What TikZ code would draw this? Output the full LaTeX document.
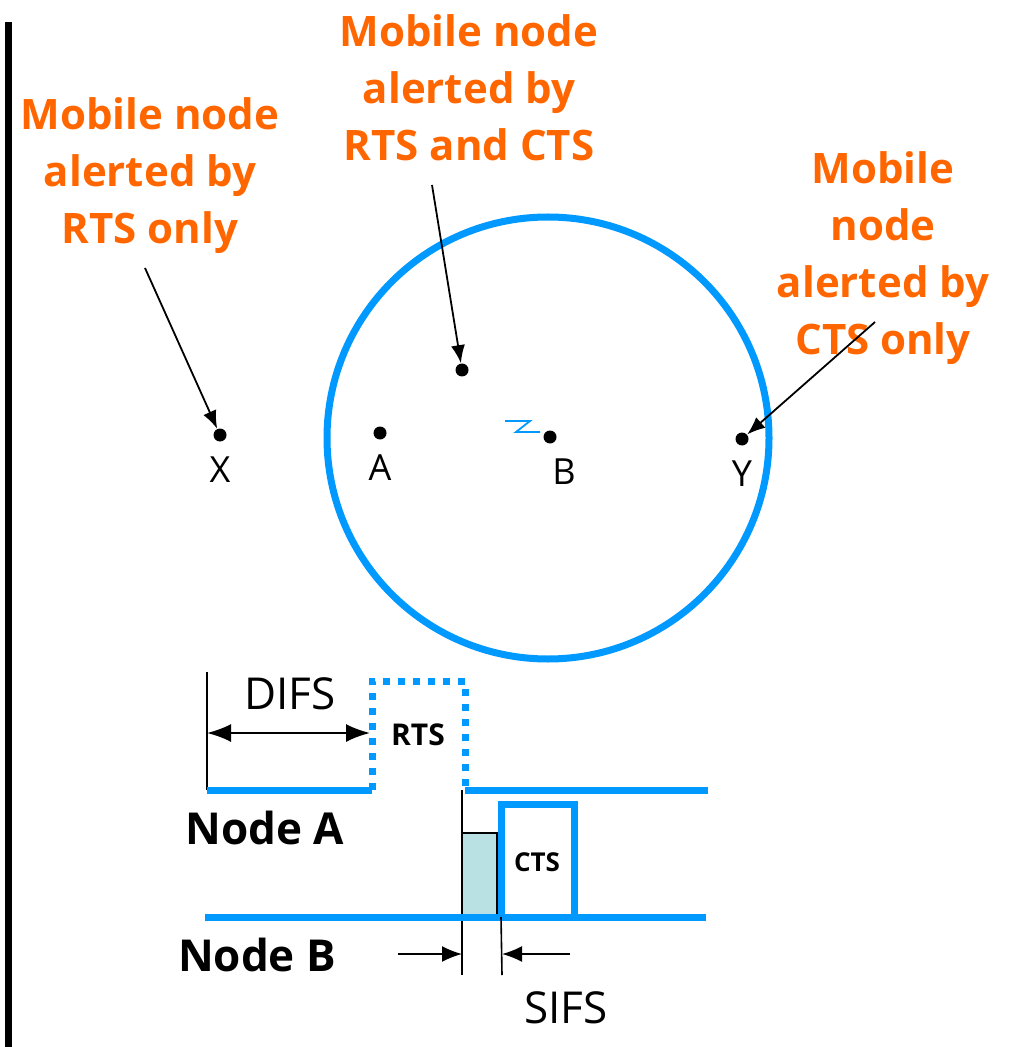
\documentclass[tikz,border=0pt]{standalone}
\usepackage{fontspec}
\setmainfont{Open Sans}
\usepackage{tikz}
\usetikzlibrary{arrows.meta,positioning}
\definecolor{wlanblue}{RGB}{0,153,255}
\definecolor{alertorange}{RGB}{255,102,0}
\definecolor{sifsfill}{RGB}{185,224,226}

\begin{document}
\begin{tikzpicture}[
    x=0.5pt, y=-0.5pt,
    note/.style={text=alertorange, font=\fontsize{21}{28.5}\selectfont\bfseries,
                 align=center, inner sep=0pt},
    dot/.style={circle, fill=black, inner sep=0pt, minimum size=6.5pt},
    lbl/.style={font=\fontsize{18}{20}\selectfont, inner sep=0pt},
    big/.style={font=\fontsize{22}{26}\selectfont, inner sep=0pt},
    nodename/.style={font=\fontsize{22}{26}\selectfont\bfseries, inner sep=0pt},
    tag/.style={font=\fontsize{15}{18}\selectfont\bfseries, inner sep=0pt},
    pulse/.style={wlanblue, line width=3.5pt},
    arrow/.style={-{Latex[length=9pt,width=7pt]}, line width=0.9pt}
]
\useasboundingbox (0,0) rectangle (1024,1047);

% Range
\draw[line width=3.5pt] (8,22) -- (8,1047);
\draw[wlanblue, line width=3.5pt] (548,438) circle (221);
\draw[wlanblue, line width=0.9pt] (505,421) -- (530,421) -- (516,432) -- (540,432);

% Nodes
\node[dot] (dx) at (220,435) {};
\node[dot] (da) at (380,433) {};
\node[dot] (db) at (550,437) {};
\node[dot] (dy) at (742,439) {};
\node[dot] (dm) at (462,370) {};
\node[lbl, below=7pt of dx] (lx) {X};
\node[lbl, below=7pt of da] (la) {A};
\node[lbl, below=7pt of db, xshift=7pt] (lb) {B};
\node[lbl, below=7pt of dy] (ly) {Y};

\node[note] (rtsonly) at (150,176) {Mobile node\\alerted by\\RTS only};
\node[note] (both) at (469,88) {Mobile node\\alerted by\\RTS and CTS};
\node[note] (ctsonly) at (883,258) {Mobile\\node\\alerted by\\CTS only};

\coordinate (s1) at (145,268);
\coordinate (s2) at (432,185);
\coordinate (s3) at (875,322);

% Arrows
\draw[arrow] (s1) -- (dx);
\draw[arrow] (s2) -- (dm);
\draw[arrow] (s3) -- (dy);

% Timing
\coordinate (t0) at (207,790);
\coordinate (r0) at (372,790);
\coordinate (r1) at (465,790);
\coordinate (b0) at (205,917);
\coordinate (k0) at (462,917);
\coordinate (c0) at (501,917);
\coordinate (c1) at (574,917);

\draw[line width=1pt] (207,672) -- (t0);
\draw[pulse] (t0) -- (r0);
\draw[pulse, dash pattern=on 3.5pt off 4pt] (r0) -- (372,681) -- (465,681) -- (r1);
\draw[pulse] (r1) -- (708,790);
\node[big] (difs) at (290,694) {DIFS};
\draw[{Latex[length=12pt,width=9pt]}-{Latex[length=12pt,width=9pt]}, line width=1pt]
    (207,733) -- (370,733);
\node[tag] (rts) at (418,735) {RTS};
\node[nodename] (nodea) at (265,828) {Node A};

\draw[line width=1pt] (462,790) -- (462,975);
\draw[fill=sifsfill, line width=0.8pt] (k0) rectangle (497,833);
\draw[pulse] (b0) -- (706,917);
\draw[pulse] (c0) -- (501,804) -- (574,804) -- (c1);
\node[font=\fontsize{13}{16}\selectfont\bfseries, inner sep=0pt] (cts) at (537,862) {CTS};
\node[nodename] (nodeb) at (257,955) {Node B};

\draw[line width=0.8pt] (c0) -- (502,975);
\coordinate (g0) at (462,954);
\coordinate (g1) at (502,954);
\draw[{Latex[length=10pt,width=8pt]}-, line width=0.8pt] (g0) -- (398,954);
\draw[{Latex[length=10pt,width=8pt]}-, line width=0.8pt] (g1) -- (570,954);
\node[big] (sifs) at (566,1008) {SIFS};
\end{tikzpicture}
\end{document}
